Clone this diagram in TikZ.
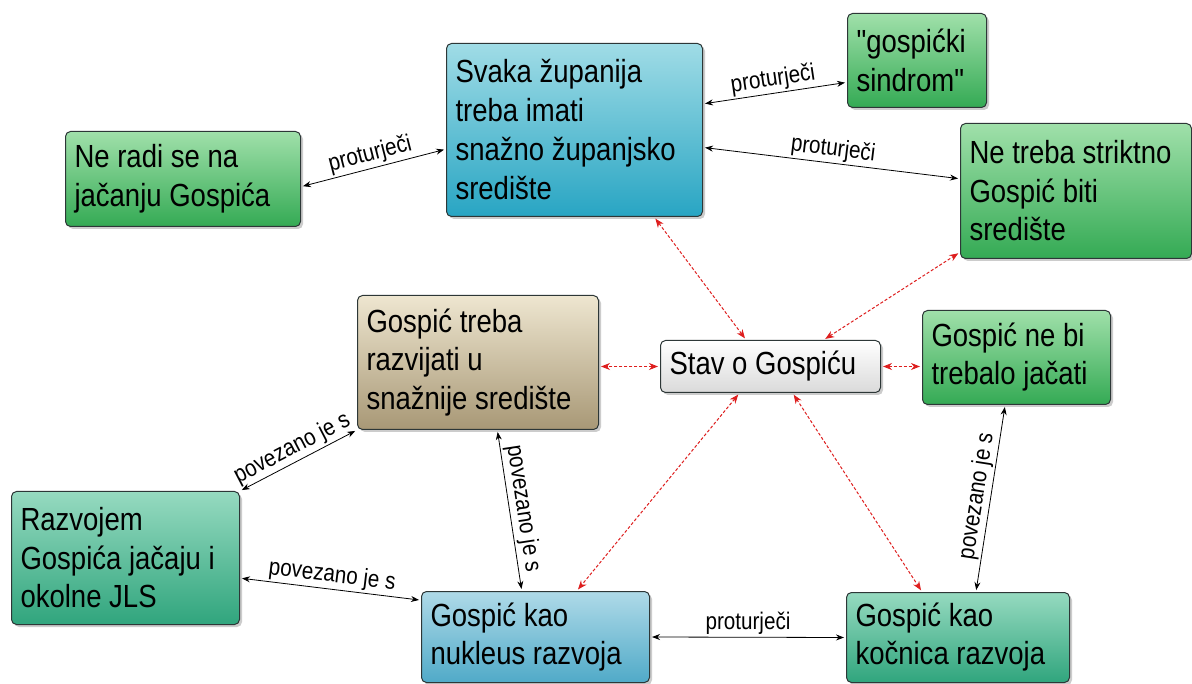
\documentclass[tikz,border=0pt]{standalone}
\usepackage{fontspec}
\setmainfont{Liberation Sans}
\newfontfamily\boxf{Liberation Sans}[FakeStretch=0.86]
\newfontfamily\lblf{Liberation Sans}[FakeStretch=0.86]
\usetikzlibrary{shadows,calc,arrows.meta}
\hyphenpenalty=10000
\exhyphenpenalty=10000
\definecolor{gtop}{RGB}{160,224,170}
\definecolor{gbot}{RGB}{52,170,84}
\definecolor{ttop}{RGB}{150,218,192}
\definecolor{tbot}{RGB}{48,165,125}
\definecolor{ctop}{RGB}{160,220,230}
\definecolor{cbot}{RGB}{40,165,195}
\definecolor{btop}{RGB}{175,218,232}
\definecolor{bbot}{RGB}{80,170,200}
\definecolor{ntop}{RGB}{238,230,208}
\definecolor{nbot}{RGB}{168,152,118}
\definecolor{wtop}{RGB}{255,255,255}
\definecolor{wbot}{RGB}{218,218,218}
\definecolor{boxedge}{RGB}{45,55,55}
\definecolor{relred}{RGB}{222,30,30}
\begin{document}
\begin{tikzpicture}[x=1pt,y=-1pt,
  box/.style={draw=boxedge, line width=1pt, rounded corners=5pt, anchor=north west,
    inner xsep=9pt, inner ysep=0pt, align=flush left,
    font=\boxf\fontsize{32}{39}\selectfont,
    drop shadow={shadow xshift=2.5pt,shadow yshift=-2.5pt,opacity=0.4}},
  sz/.style 2 args={minimum width=#1pt, minimum height=#2pt, text width=#1pt-18pt},
  green/.style={top color=gtop, bottom color=gbot},
  teal/.style={top color=ttop, bottom color=tbot},
  cyan/.style={top color=ctop, bottom color=cbot},
  blue/.style={top color=btop, bottom color=bbot},
  tan/.style={top color=ntop, bottom color=nbot},
  grey/.style={top color=wtop, bottom color=wbot},
  rel/.style={{Stealth[length=8pt,width=6pt]}-{Stealth[length=8pt,width=6pt]}, line width=0.8pt, black,
    shorten >=2pt, shorten <=2pt},
  redrel/.style={{Stealth[length=9pt,width=7pt]}-{Stealth[length=9pt,width=7pt]}, line width=1pt, relred,
    dash pattern=on 3pt off 2pt, shorten >=2pt, shorten <=2pt},
  lbl/.style={font=\lblf\fontsize{24}{26}\selectfont, sloped, above, inner sep=2pt}
]
\useasboundingbox (0,0) rectangle (1192,684);
\fill[white] (0,0) rectangle (1192,684);

\node[box, cyan, sz={256}{173}] (A) at (446,43) {Svaka županija\\treba imati\\snažno županjsko\\središte};
\node[box, green, sz={235}{95}] (B) at (65,131) {Ne radi se na\\jačanju Gospića};
\node[box, green, sz={139}{94}] (C) at (847,13) {"gospićki\\sindrom"};
\node[box, green, sz={231}{135}, font=\boxf\fontsize{32}{38.5}\selectfont] (D) at (960,123) {Ne treba striktno\\Gospić biti\\središte};
\node[box, tan, sz={241}{134}, font=\boxf\fontsize{32}{38.5}\selectfont] (E) at (357,295) {Gospić treba\\razvijati u\\snažnije središte};
\node[box, grey, sz={220}{52}] (F) at (660,340) {Stav o Gospiću};
\node[box, green, sz={188}{94}, font=\boxf\fontsize{32}{38}\selectfont] (G) at (922,310) {Gospić ne bi\\trebalo jačati};
\node[box, teal, sz={228}{133}, font=\boxf\fontsize{32}{38.5}\selectfont] (H) at (11,491) {Razvojem\\Gospića jačaju i\\okolne JLS};
\node[box, blue, sz={228}{91}, font=\boxf\fontsize{32}{38}\selectfont] (I) at (421,591) {Gospić kao\\nukleus razvoja};
\node[box, teal, sz={223}{90}, font=\boxf\fontsize{32}{38}\selectfont] (J) at (846,592) {Gospić kao\\kočnica razvoja};

% black relations
\draw[rel] ($(B.north east)!0.58!(B.south east)$) -- node[lbl]{proturječi} ($(A.north west)!0.61!(A.south west)$);
\draw[rel] ($(A.north east)!0.35!(A.south east)$) -- node[lbl]{proturječi} ($(C.north west)!0.73!(C.south west)$);
\draw[rel] ($(A.north east)!0.60!(A.south east)$) -- node[lbl]{proturječi} ($(D.north west)!0.41!(D.south west)$);
\draw[rel] (H.north east) -- node[lbl]{povezano je s} (E.south west);
\draw[rel] ($(E.south west)!0.58!(E.south east)$) -- node[lbl]{povezano je s} ($(I.north west)!0.44!(I.north east)$);
\draw[rel] ($(H.north east)!0.65!(H.south east)$) -- node[lbl]{povezano je s} ($(I.north west)!0.10!(I.south west)$);
\draw[rel] (I.east) -- node[lbl]{proturječi} (J.west);
\draw[rel] ($(G.south west)!0.44!(G.south east)$) -- node[lbl]{povezano je s} ($(J.north west)!0.58!(J.north east)$);

% red relations
\draw[redrel] ($(F.north west)!0.39!(F.north east)$) -- ($(A.south west)!0.81!(A.south east)$);
\draw[redrel] ($(F.north west)!0.74!(F.north east)$) -- ($(D.north west)!0.95!(D.south west)$);
\draw[redrel] (F.west) -- (F.west -| E.east);
\draw[redrel] (F.east) -- (F.east -| G.west);
\draw[redrel] ($(F.south west)!0.36!(F.south east)$) -- ($(I.north west)!0.68!(I.north east)$);
\draw[redrel] ($(F.south west)!0.60!(F.south east)$) -- ($(J.north west)!0.34!(J.north east)$);
\end{tikzpicture}
\end{document}
